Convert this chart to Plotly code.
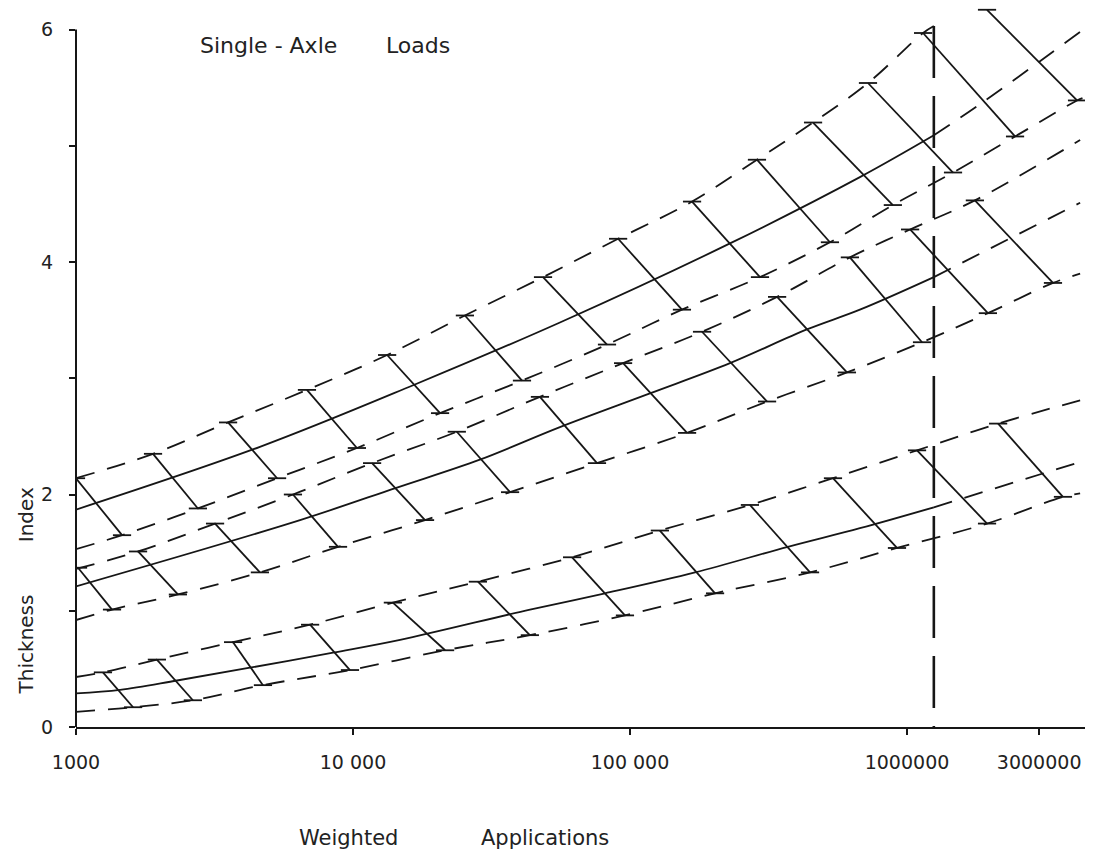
import plotly.graph_objects as go

# ---------------- axis ticks ----------------
x_tick_vals = [1000, 10000, 100000, 1000000, 3000000]
x_tick_text = ["1000", "10 000", "100 000", "1000000", "3000000"]
y_tick_vals = [0, 1, 2, 3, 4, 5, 6]
y_tick_text = ["0", "", "2", "", "4", "", "6"]

# vertical design line (weighted applications)
design_x = 1250000
design_top = 6.03

# ---------------- group A (top family) ----------------
a_up_x = [1000, 1897, 3540, 6820, 13280, 25350, 48530, 90600, 167500, 287300, 458000, 723000, 1143000, 1250000]
a_up_y = [2.14, 2.35, 2.62, 2.90, 3.20, 3.54, 3.87, 4.20, 4.52, 4.88, 5.20, 5.54, 5.97, 6.03]

a_mid_x = [1000, 4613, 16480, 55850, 229600, 676000, 1250000]
a_mid_y = [1.87, 2.41, 2.94, 3.48, 4.16, 4.73, 5.09]
a_ext_x = [1250000, 1866000, 4217000]
a_ext_y = [5.09, 5.37, 5.98]

a_low_x = [1000, 1466, 2755, 5320, 10330, 20620, 40740, 82600, 154000, 294600, 527000, 889000, 1466000, 2455000, 4110000, 4300000]
a_low_y = [1.53, 1.65, 1.88, 2.14, 2.40, 2.70, 2.98, 3.29, 3.59, 3.87, 4.17, 4.49, 4.77, 5.08, 5.39, 5.41]

a_rung_x0 = [1000, 1897, 3540, 6820, 13280, 25350, 48530, 90600, 167500, 287300, 458000, 723000, 1143000, 1945000]
a_rung_y0 = [2.14, 2.35, 2.62, 2.90, 3.20, 3.54, 3.87, 4.20, 4.52, 4.88, 5.20, 5.54, 5.97, 6.17]
a_rung_x1 = [1466, 2755, 5320, 10330, 20620, 40740, 82600, 154000, 294600, 527000, 889000, 1466000, 2455000, 4110000]
a_rung_y1 = [1.65, 1.88, 2.14, 2.40, 2.70, 2.98, 3.29, 3.59, 3.87, 4.17, 4.49, 4.77, 5.08, 5.39]

# ---------------- group B (middle family) ----------------
b_up_x = [1000, 1675, 3177, 6070, 11720, 23700, 47300, 94400, 182000, 339700, 622000, 1026000, 1758000, 4217000]
b_up_y = [1.36, 1.51, 1.75, 2.00, 2.27, 2.54, 2.84, 3.13, 3.40, 3.70, 4.04, 4.28, 4.53, 5.05]

b_mid_x = [1000, 6440, 14420, 28700, 55850, 118000, 229600, 435000, 676000, 1250000]
b_mid_y = [1.21, 1.78, 2.06, 2.30, 2.58, 2.87, 3.13, 3.42, 3.59, 3.87]
b_ext_x = [1250000, 4217000]
b_ext_y = [3.87, 4.51]

b_low_x = [1000, 1349, 2333, 4613, 8830, 18200, 36900, 76000, 160700, 312500, 607000, 1133000, 1959000, 3365000, 4217000]
b_low_y = [0.92, 1.01, 1.14, 1.33, 1.55, 1.78, 2.02, 2.27, 2.53, 2.80, 3.05, 3.31, 3.56, 3.82, 3.90]

b_rung_x0 = [1017, 1675, 3177, 6070, 11720, 23700, 47300, 94400, 182000, 339700, 622000, 1026000, 1758000]
b_rung_y0 = [1.37, 1.51, 1.75, 2.00, 2.27, 2.54, 2.84, 3.13, 3.40, 3.70, 4.04, 4.28, 4.53]
b_rung_x1 = [1349, 2333, 4613, 8830, 18200, 36900, 76000, 160700, 312500, 607000, 1133000, 1959000, 3365000]
b_rung_y1 = [1.01, 1.14, 1.33, 1.55, 1.78, 2.02, 2.27, 2.53, 2.80, 3.05, 3.31, 3.56, 3.82]

# ---------------- group C (bottom family) ----------------
c_up_x = [1000, 1251, 1959, 3690, 7000, 13930, 28250, 61800, 128200, 271000, 540500, 1087000, 2133000, 4217000]
c_up_y = [0.43, 0.47, 0.58, 0.73, 0.88, 1.07, 1.25, 1.46, 1.69, 1.91, 2.14, 2.38, 2.61, 2.81]

c_mid_x = [1000, 1443, 2317, 4246, 8475, 14790, 43550, 81300, 171700, 371500, 676000, 1250000]
c_mid_y = [0.29, 0.32, 0.40, 0.51, 0.64, 0.75, 1.01, 1.15, 1.33, 1.55, 1.71, 1.89]
c_ext_x = [1250000, 4217000]
c_ext_y = [1.89, 2.28]

c_low_x = [1000, 1607, 2642, 4730, 9750, 21500, 43500, 95900, 202800, 446700, 920000, 1945000, 3656000, 4217000]
c_low_y = [0.13, 0.17, 0.23, 0.36, 0.49, 0.66, 0.79, 0.96, 1.15, 1.33, 1.54, 1.75, 1.98, 2.01]

c_rung_x0 = [1251, 1959, 3690, 7000, 13930, 28250, 61800, 128200, 271000, 540500, 1087000, 2133000]
c_rung_y0 = [0.47, 0.58, 0.73, 0.88, 1.07, 1.25, 1.46, 1.69, 1.91, 2.14, 2.38, 2.61]
c_rung_x1 = [1607, 2642, 4730, 9750, 21500, 43500, 95900, 202800, 446700, 920000, 1945000, 3656000]
c_rung_y1 = [0.17, 0.23, 0.36, 0.49, 0.66, 0.79, 0.96, 1.15, 1.33, 1.54, 1.75, 1.98]

# ---------------- styling ----------------
INK = "#161616"
LW = 1.8
DASH = "19px,13px"
FONT = "DejaVu Sans"

fig = go.Figure()


def curve(x, y, dash=None):
    fig.add_trace(go.Scatter(
        x=x, y=y, mode="lines",
        line=dict(color=INK, width=LW, dash=dash, shape="spline", smoothing=1.0),
        hoverinfo="skip", showlegend=False))


def rungs(x0, y0, x1, y1):
    xs, ys = [], []
    for a, b, c, d in zip(x0, y0, x1, y1):
        xs += [a, c, None]
        ys += [b, d, None]
    fig.add_trace(go.Scatter(
        x=xs, y=ys, mode="lines+markers",
        line=dict(color=INK, width=LW),
        marker=dict(symbol="line-ew", size=13, color=INK,
                    line=dict(color=INK, width=LW)),
        hoverinfo="skip", showlegend=False))


for ux, uy, mx, my, ex, ey, lx, ly, rx0, ry0, rx1, ry1 in [
    (a_up_x, a_up_y, a_mid_x, a_mid_y, a_ext_x, a_ext_y, a_low_x, a_low_y,
     a_rung_x0, a_rung_y0, a_rung_x1, a_rung_y1),
    (b_up_x, b_up_y, b_mid_x, b_mid_y, b_ext_x, b_ext_y, b_low_x, b_low_y,
     b_rung_x0, b_rung_y0, b_rung_x1, b_rung_y1),
    (c_up_x, c_up_y, c_mid_x, c_mid_y, c_ext_x, c_ext_y, c_low_x, c_low_y,
     c_rung_x0, c_rung_y0, c_rung_x1, c_rung_y1),
]:
    curve(ux, uy, DASH)
    curve(mx, my)
    curve(ex, ey, DASH)
    curve(lx, ly, DASH)
    rungs(rx0, ry0, rx1, ry1)

# vertical dashed design line
fig.add_trace(go.Scatter(
    x=[design_x, design_x], y=[design_top, 0], mode="lines",
    line=dict(color=INK, width=2.6, dash="52px,18px"),
    hoverinfo="skip", showlegend=False))

fig.update_layout(
    width=1110, height=866,
    margin=dict(l=76, r=25, t=0, b=139),
    paper_bgcolor="white", plot_bgcolor="white",
    showlegend=False,
    font=dict(family=FONT, color="#222"),
    xaxis=dict(
        type="log", range=[3, 6.6426],
        tickvals=x_tick_vals, ticktext=x_tick_text,
        tickfont=dict(size=19, family=FONT, color="#222"),
        ticks="outside", ticklen=6, tickwidth=2, tickcolor=INK,
        ticklabelstandoff=11,
        showline=True, linecolor=INK, linewidth=2,
        showgrid=False, zeroline=False),
    yaxis=dict(
        range=[0, 6.254],
        tickvals=y_tick_vals, ticktext=y_tick_text,
        tickfont=dict(size=19, family=FONT, color="#222"),
        ticks="outside", ticklen=6, tickwidth=2, tickcolor=INK,
        ticklabelstandoff=12,
        showline=False, showgrid=False, zeroline=False),
    shapes=[dict(type="line", xref="paper", yref="y", x0=0, x1=0, y0=0, y1=6,
                 line=dict(color=INK, width=2))],
    annotations=[
        dict(text="Single - Axle", xref="paper", yref="paper", x=0.121, y=0.937,
             xanchor="left", yanchor="middle", showarrow=False,
             font=dict(size=22, family=FONT, color="#222")),
        dict(text="Loads", xref="paper", yref="paper", x=0.305, y=0.937,
             xanchor="left", yanchor="middle", showarrow=False,
             font=dict(size=22, family=FONT, color="#222")),
        dict(text="Weighted", xref="paper", yref="paper", x=0.270, y=-0.153,
             xanchor="center", yanchor="middle", showarrow=False,
             font=dict(size=21, family=FONT, color="#222")),
        dict(text="Applications", xref="paper", yref="paper", x=0.465, y=-0.153,
             xanchor="center", yanchor="middle", showarrow=False,
             font=dict(size=21, family=FONT, color="#222")),
        dict(text="Thickness", xref="paper", yref="paper", x=-0.050, y=0.113,
             xanchor="center", yanchor="middle", textangle=-90, showarrow=False,
             font=dict(size=20, family=FONT, color="#222")),
        dict(text="Index", xref="paper", yref="paper", x=-0.050, y=0.292,
             xanchor="center", yanchor="middle", textangle=-90, showarrow=False,
             font=dict(size=20, family=FONT, color="#222")),
    ],
)

fig.write_html("out.html")
